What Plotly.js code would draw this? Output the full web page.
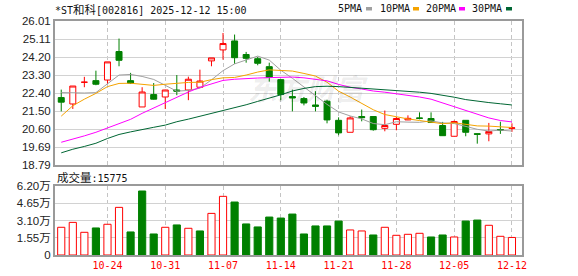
<!DOCTYPE html>
<html><head><meta charset="utf-8">
<script src="https://cdn.plot.ly/plotly-3.0.1.min.js"></script>
<style>html,body{margin:0;padding:0;background:#fff;}#chart{width:578px;height:276px;}</style>
</head><body><div id="chart"></div>
<script>
// ---------------- data ----------------
const titleText = "*ST和科[002816] 2025-12-12 15:00";
const volLabel = "成交量:15775";
const watermark = "东方财富";
const dates = ["2025-10-20","2025-10-21","2025-10-22","2025-10-23","2025-10-24",
 "2025-10-27","2025-10-28","2025-10-29","2025-10-30","2025-10-31",
 "2025-11-03","2025-11-04","2025-11-05","2025-11-06","2025-11-07",
 "2025-11-10","2025-11-11","2025-11-12","2025-11-13","2025-11-14",
 "2025-11-17","2025-11-18","2025-11-19","2025-11-20","2025-11-21",
 "2025-11-24","2025-11-25","2025-11-26","2025-11-27","2025-11-28",
 "2025-12-01","2025-12-02","2025-12-03","2025-12-04","2025-12-05",
 "2025-12-08","2025-12-09","2025-12-10","2025-12-11","2025-12-12"];
const openP  = [22.17,21.85,22.94,23.02,23.05,24.48,23.02,21.70,22.32,22.20,
 22.55,22.55,22.69,24.01,24.56,25.01,24.33,24.12,23.72,23.07,
 22.22,22.12,21.80,21.99,21.03,20.43,21.22,21.22,20.63,20.83,
 21.05,21.15,21.12,20.77,20.23,21.03,20.36,20.35,20.57,20.63];
const highP  = [22.57,22.75,23.21,23.52,23.96,25.13,23.41,22.69,22.90,22.56,
 23.30,23.22,23.57,24.16,25.41,25.33,24.46,24.21,23.92,23.10,
 22.57,22.20,22.49,22.06,21.18,21.23,21.57,21.22,21.52,21.20,
 21.28,21.43,21.43,20.95,21.02,21.03,20.36,20.90,20.96,20.88];
const lowP   = [21.48,21.60,22.69,22.79,22.85,23.74,22.85,21.70,22.07,21.60,
 22.29,22.04,22.65,23.74,24.07,23.86,23.92,23.79,22.97,22.04,
 21.48,21.78,21.48,20.88,20.28,20.43,20.98,20.51,20.48,20.53,
 21.04,21.08,20.91,20.26,20.23,20.23,19.86,19.98,20.35,20.45];
const closeP = [21.94,22.75,22.94,22.84,23.96,24.04,22.89,22.45,22.09,22.55,
 22.49,23.09,23.00,24.16,24.88,24.17,24.14,23.89,23.19,22.32,
 22.15,21.90,21.73,21.05,20.40,21.15,21.16,20.56,20.77,21.12,
 21.13,21.13,20.92,20.26,20.97,20.43,20.33,20.47,20.53,20.65];
const ma5  = [22.42,22.40,22.40,22.42,22.88,23.30,23.33,23.23,23.08,22.80,
 22.49,22.53,22.64,23.06,23.52,23.86,24.07,24.25,24.05,23.54,
 23.14,22.69,22.26,21.83,21.45,21.25,21.10,20.87,20.81,20.96,
 20.94,20.93,21.00,20.90,20.87,20.73,20.58,20.49,20.54,20.49];
const ma10 = [21.24,21.76,22.09,22.38,22.72,22.88,22.89,22.83,22.78,22.84,
 22.90,22.93,22.94,23.07,23.16,23.18,23.30,23.45,23.56,23.53,
 23.50,23.38,23.25,22.94,22.49,22.20,21.90,21.56,21.32,21.20,
 21.10,21.02,20.93,20.86,20.91,20.84,20.75,20.74,20.71,20.67];
const ma20 = [19.93,20.08,20.25,20.43,20.64,20.85,21.08,21.38,21.65,21.92,
 22.18,22.45,22.68,22.86,23.03,23.09,23.13,23.15,23.17,23.19,
 23.20,23.16,23.10,23.01,22.83,22.69,22.60,22.50,22.44,22.37,
 22.30,22.20,22.09,21.90,21.70,21.52,21.32,21.15,21.02,20.95];
const ma30 = [19.40,19.58,19.72,19.88,20.12,20.32,20.45,20.55,20.68,20.79,
 20.96,21.09,21.23,21.38,21.51,21.64,21.81,21.98,22.14,22.31,
 22.50,22.63,22.72,22.74,22.72,22.68,22.64,22.60,22.56,22.53,
 22.50,22.44,22.38,22.29,22.19,22.07,21.98,21.92,21.86,21.80];
const volume = [2.49,2.93,2.04,2.43,2.76,4.28,2.07,5.75,1.89,2.49,
 2.70,2.40,2.16,3.74,5.27,4.76,2.79,2.52,3.41,3.32,
 3.68,1.89,2.61,2.61,3.05,2.25,2.16,1.80,2.49,1.77,
 1.86,1.95,1.62,1.80,1.62,3.05,3.14,2.67,1.68,1.5775];
const volRise = [1,1,1,0,1,1,0,0,0,1, 0,1,0,1,1,0,0,0,0,0, 0,0,0,0,0,1,1,0,1,1, 1,1,0,0,1,0,0,1,1,1];
const maNames = ["5PMA","10PMA","20PMA","30PMA"];
const priceTickVals = [18.79,19.6925,20.595,21.4975,22.40,23.3025,24.205,25.1075,26.01];
const priceTickText = ["18.79","19.69","20.60","21.50","22.40","23.30","24.20","25.11","26.01"];
const volTickVals = [0,1.55,3.10,4.65,6.20];
const volTickText = ["0","1.55万","3.10万","4.65万","6.20万"];
const dateTickVals = ["2025-10-24","2025-10-31","2025-11-07","2025-11-14","2025-11-21","2025-11-28","2025-12-05","2025-12-12"];
const dateTickText = ["10-24","10-31","11-07","11-14","11-21","11-28","12-05","12-12"];

// ---------------- styles / layout ----------------
const W=578,H=276,L=55,R=56,T=21,B=21;
const PW=W-L-R, PH=H-T-B;
const px=v=>(v-L)/PW, py=v=>(H-B-v)/PH;
const RED='#ff0000', GREEN='#008000';
const maColors=['#a0a0a0','#f5a300','#ff00ff','#006633'];
const mono="DejaVu Sans Mono, Noto Sans CJK SC";
const cjk=s=>s.replace(/([\u4e00-\u9fff]+)/g,'<span style="font-family:Noto Sans CJK SC;font-size:11.5px">$1</span>');
const xr=[-0.54,39.87];

const traces=[];
traces.push({type:'candlestick',x:dates,open:openP,high:highP,low:lowP,close:closeP,
  xaxis:'x',yaxis:'y',hoverinfo:'skip',whiskerwidth:0,
  increasing:{line:{color:RED,width:1},fillcolor:'#ffffff'},
  decreasing:{line:{color:GREEN,width:1},fillcolor:GREEN}});
[ma5,ma10,ma20,ma30].forEach((m,k)=>traces.push({type:'scatter',mode:'lines',x:dates,y:m,
  xaxis:'x',yaxis:'y',hoverinfo:'skip',line:{color:maColors[k],width:1}}));
traces.push({type:'bar',x:dates,y:volume,xaxis:'x2',yaxis:'y2',width:0.62,hoverinfo:'skip',
  marker:{color:volRise.map(r=>r?'#ffffff':GREEN),line:{color:volRise.map(r=>r?RED:GREEN),width:1}}});

const axBase={type:'category',range:xr,showgrid:true,gridcolor:'#c4c4c4',griddash:'4px,3px',gridwidth:1,
  showline:true,mirror:true,linecolor:'#9a9a9a',linewidth:2,zeroline:false,ticks:'',fixedrange:true,
  tickvals:dateTickVals,ticktext:dateTickText};
const yBase={showgrid:true,gridcolor:'#d2d2d2',gridwidth:1,showline:true,mirror:true,linecolor:'#9a9a9a',
  linewidth:2,zeroline:false,ticks:'',fixedrange:true,
  tickfont:{family:'Arial, Liberation Sans, Noto Sans CJK SC',size:11.5,color:'#222'}};

const annotations=[
  {text:cjk(titleText),x:px(53),y:py(9),xref:'paper',yref:'paper',xanchor:'left',yanchor:'middle',showarrow:false,
   font:{family:mono,size:10,color:'#111'}},
  {text:cjk(volLabel),x:px(55),y:py(177),xref:'paper',yref:'paper',xanchor:'left',yanchor:'middle',showarrow:false,
   font:{family:mono,size:10,color:'#111'}},
  {text:watermark,x:px(308),y:py(87),xref:'paper',yref:'paper',xanchor:'center',yanchor:'middle',showarrow:false,
   font:{family:'Noto Sans CJK SC',size:29,color:'rgba(0,0,0,0.085)',style:'italic',weight:700}}
];
const legendTextX=[336,378,424,470], legendMarkX=[366,413,459,506];
const shapes=[];
maNames.forEach((n,k)=>{
  annotations.push({text:n,x:px(legendTextX[k]),y:py(9),xref:'paper',yref:'paper',xanchor:'left',yanchor:'middle',
    showarrow:false,font:{family:mono,size:10,color:'#111'}});
  shapes.push({type:'rect',xref:'paper',yref:'paper',x0:px(legendMarkX[k]),x1:px(legendMarkX[k]+6),
    y0:py(10.5),y1:py(7),fillcolor:maColors[k],line:{width:0}});
});

const layout={width:W,height:H,margin:{l:L,r:R,t:T,b:B},paper_bgcolor:'#fff',plot_bgcolor:'#fff',
  showlegend:false,boxgap:0.26,bargap:0.3,
  xaxis:Object.assign({},axBase,{anchor:'y',showticklabels:false,rangeslider:{visible:false}}),
  xaxis2:Object.assign({},axBase,{anchor:'y2',showticklabels:true,
    tickfont:{family:mono,size:10,color:RED}}),
  yaxis:Object.assign({},yBase,{domain:[py(165),1],range:[18.79,26.01],tickvals:priceTickVals,ticktext:priceTickText}),
  yaxis2:Object.assign({},yBase,{domain:[0,py(186)],range:[0,6.2],tickvals:volTickVals,ticktext:volTickText}),
  annotations:annotations,shapes:shapes};

Plotly.newPlot('chart',traces,layout,{displayModeBar:false,staticPlot:true});
</script></body></html>
